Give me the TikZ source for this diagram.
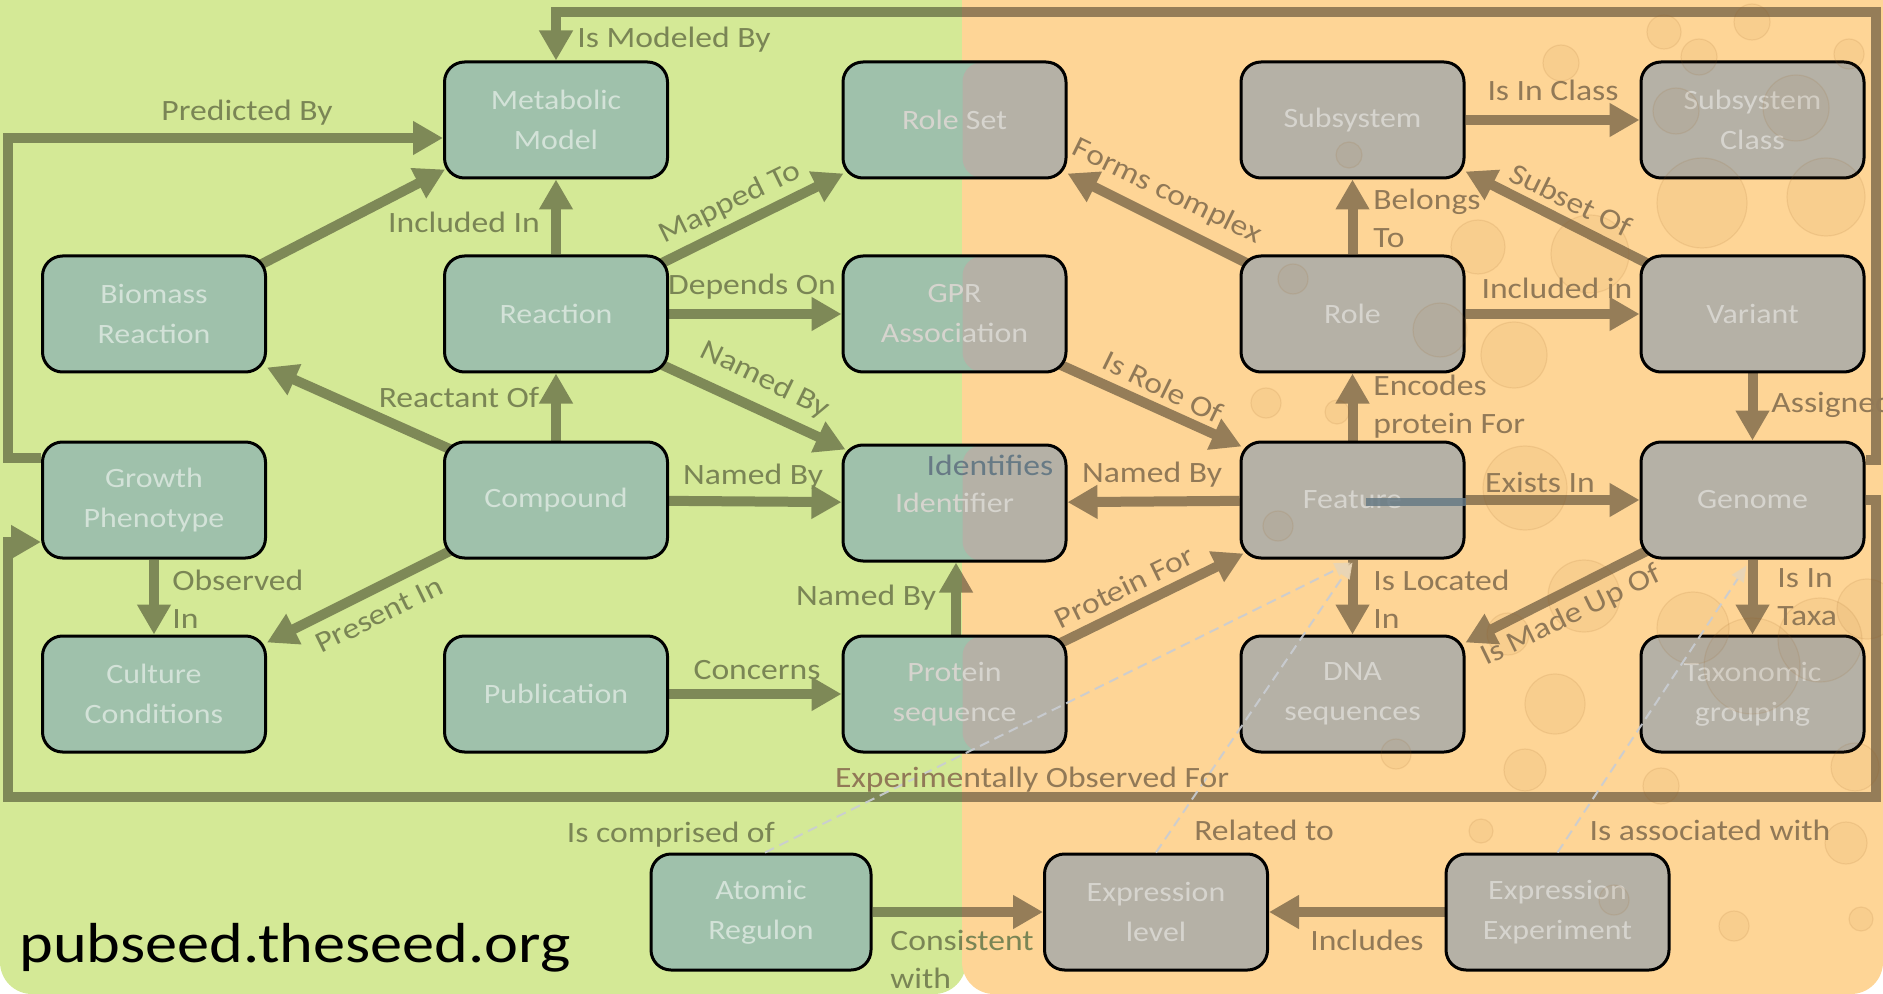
\documentclass[tikz,border=0pt]{standalone}
\usepackage{fontspec}
\setmainfont{Carlito}[FakeStretch=1.14]
\usetikzlibrary{arrows.meta,calc}

\definecolor{bggreen}{HTML}{D4E996}
\definecolor{bgorange}{HTML}{FED596}
\definecolor{tealfill}{HTML}{9FC1AB}
\definecolor{greyfill}{HTML}{B5B1A6}
\definecolor{tealtext}{HTML}{D3E2D8}
\definecolor{greytext}{HTML}{D6D4CE}
\definecolor{edgeolive}{HTML}{7E8957}
\definecolor{edgebrown}{HTML}{957D58}
\definecolor{labolive}{HTML}{7A8555}
\definecolor{labbrown}{HTML}{917957}
\definecolor{slatecol}{HTML}{677A85}
\definecolor{dashcol}{HTML}{C9CDD3}
\definecolor{tiptan}{HTML}{E9D5B5}
\definecolor{bubblecol}{HTML}{9A5F1E}

\newcommand\boxfont{\fontsize{14}{20}\selectfont}
\newcommand\labfont{\fontsize{14.75}{19}\selectfont}

\pgfdeclarelayer{bglayer}
\pgfdeclarelayer{edgelayer}
\pgfdeclarelayer{frontlayer}
\pgfsetlayers{bglayer,edgelayer,main,frontlayer}

\tikzset{
  ent/.style={draw=black, line width=1.5pt, rounded corners=10pt, minimum width=111.5pt, minimum height=58pt, inner sep=0pt, align=center, font=\boxfont},
  tealbox/.style={ent, fill=tealfill, text=tealtext},
  greybox/.style={ent, fill=greyfill, text=greytext},
  splitbox/.style={ent, fill=tealfill, text=greytext, path picture={\fill[greyfill] ([xshift=4pt]path picture bounding box.north) rectangle (path picture bounding box.south east);}},
  link/.style={line width=5pt, -{Triangle[length=15pt,width=16pt]}},
  lab/.style={font=\labfont, inner sep=0pt},
  lg/.style={lab, text=labolive},
  lo/.style={lab, text=labbrown},
  dashlink/.style={draw=dashcol, draw opacity=0.9, line width=1pt, dash pattern=on 5pt off 3pt, -{Triangle[length=8pt,width=7pt,color=tiptan]}},
  bubble/.style={fill=bubblecol, fill opacity=0.06, draw=bubblecol, draw opacity=0.11, line width=0.6pt},
}

\newcommand\alledges[1]{%
  \draw[link,color=#1] ($(gen.east)+(0,-40)$) -| (trc) -| (mm.north);
  \draw[link,color=#1] (gen.east) -| (brc) -| (blc) -- (blc -| gp.west);
  \draw[link,color=#1] ($(gp.west)+(0,-42)$) -| (plc) -- (plc -| mm.west);
  \draw[link,color=#1] ($(br.north east)+(-10,12)$) -- ($(mm.south west)+(2,-10)$);
  \draw[link,color=#1] (rx) -- (mm);
  \draw[link,color=#1] ($(rx.north east)+(-10,10)$) -- ($(rs.south west)+(2,-6)$);
  \draw[link,color=#1] (rx) -- (gpr);
  \draw[link,color=#1] ($(rx.south east)+(-10,-10)$) -- ($(idf.north west)+(4,6)$);
  \draw[link,color=#1] (cpd) -- (rx);
  \draw[link,color=#1] ($(cpd.north west)+(10,10)$) -- ($(br.south east)+(0,-6)$);
  \draw[link,color=#1] (cpd) -- (idf);
  \draw[link,color=#1] ($(cpd.south west)+(10,-10)$) -- ($(cc.north east)+(0,8)$);
  \draw[link,color=#1] (gp) -- (cc);
  \draw[link,color=#1] (pub) -- (ps);
  \draw[link,color=#1] ($(ps.north)+(1.5,0)$) -- ($(idf.south)+(1.5,0)$);
  \draw[link,color=#1] ($(ps.north east)+(-10,10)$) -- ($(feat.south west)+(4,-6)$);
  \draw[link,color=#1] ($(gpr.south east)+(-10,-10)$) -- ($(feat.north west)+(2,6)$);
  \draw[link,color=#1] (feat) -- (idf);
  \draw[link,color=#1] ($(role.north west)+(10,10)$) -- ($(rs.south east)+(0,-6)$);
  \draw[link,color=#1] (role) -- (ss);
  \draw[link,color=#1] (ss) -- (ssc);
  \draw[link,color=#1] ($(var.north west)+(10,10)$) -- ($(ss.south east)+(0,-8)$);
  \draw[link,color=#1] (role) -- (var);
  \draw[link,color=#1] (var) -- (gen);
  \draw[link,color=#1] (feat) -- (role);
  \draw[link,color=#1] (feat) -- (gen);
  \draw[link,color=#1] (feat) -- (dna);
  \draw[link,color=#1] ($(gen.south west)+(10,-10)$) -- ($(dna.north east)+(0,8)$);
  \draw[link,color=#1] (gen) -- (tax);
  \draw[link,color=#1] (ar) -- (el);
  \draw[link,color=#1] (ee) -- (el);
}

\begin{document}
\begin{tikzpicture}[x=0.5pt, y=-0.5pt]
\useasboundingbox (0,0) rectangle (1883,994);
\clip (0,0) rectangle (1883,994);

\begin{pgfonlayer}{bglayer}
  \fill[bggreen, rounded corners=16pt] (0,-40) rectangle (966,994);
  \fill[bgorange, rounded corners=16pt] (962,-40) rectangle (1883,994);
\end{pgfonlayer}

% entity boxes
\node[tealbox] (mm) at (556,120) {Metabolic\\Model};
\node[splitbox] (rs) at (954.5,120) {Role Set};
\node[greybox] (ss) at (1352.5,120) {Subsystem};
\node[greybox] (ssc) at (1752.5,120) {Subsystem\\Class};
\node[tealbox] (br) at (154,314) {Biomass\\Reaction};
\node[tealbox] (rx) at (556,314) {Reaction};
\node[splitbox] (gpr) at (954.5,314) {GPR\\Association};
\node[greybox] (role) at (1352.5,314) {Role};
\node[greybox] (var) at (1752.5,314) {Variant};
\node[tealbox] (gp) at (154,500) {Growth\\Phenotype};
\node[tealbox] (cpd) at (556,500) {Compound};
\node[splitbox] (idf) at (954.5,503) {Identifier};
\node[greybox] (feat) at (1352.5,500) {Feature};
\node[greybox] (gen) at (1752.5,500) {Genome};
\node[tealbox] (cc) at (154,694) {Culture\\Conditions};
\node[tealbox] (pub) at (556,694) {Publication};
\node[splitbox] (ps) at (954.5,694) {Protein\\sequence};
\node[greybox] (dna) at (1352.5,694) {DNA\\sequences};
\node[greybox] (tax) at (1752.5,694) {Taxonomic\\grouping};
\node[tealbox, minimum width=110pt] (ar) at (761,912) {Atomic\\Regulon};
\node[greybox] (el) at (1156,912) {Expression\\level};
\node[greybox] (ee) at (1557.5,912) {Expression\\Experiment};

\coordinate (trc) at (1876,12);
\coordinate (brc) at (1876,797);
\coordinate (blc) at (8,542);
\coordinate (plc) at (8,138);

\begin{pgfonlayer}{edgelayer}
  \begin{scope}
    \clip (-20,-20) rectangle (962,1020);
    \alledges{edgeolive}
  \end{scope}
  \begin{scope}
    \clip (962,-20) rectangle (1900,1020);
    \alledges{edgebrown}
  \end{scope}
\end{pgfonlayer}

\begin{pgfonlayer}{frontlayer}
  % faint bubbles of the orange half
  \foreach \bx/\by/\br in {1664/32/17, 1752/22/18, 1561/63/18, 1699/57/18, 1849/54/15,
      1676/111/23, 1796/108/33, 1826/197/39, 1702/203/45, 1478/247/27, 1590/254/39,
      1514/355/33, 1440/330/27, 1349/155/13, 1293/279/15, 1266/403/15, 1337/412/12,
      1525/488/42, 1867/609/30, 1584/596/36, 1693/628/36, 1752/666/48, 1820/640/42,
      1508/634/21, 1555/704/30, 1396/754/15, 1525/770/21, 1855/767/24, 1481/831/12,
      1734/926/15, 1846/843/21, 1861/919/12, 1278/526/15, 1661/786/18, 1614/900/15}
    \draw[bubble] (\bx,\by) circle[radius=\br];
  % stray marks seen in the picture
  \draw[slatecol, line width=4pt, opacity=0.85] ($(feat.center)+(13,2)$) -- ($(feat.east)+(0,2)$);
  \node[lab, text=slatecol] (idtxt) at (990,465) {Identifies};

  % dashed links
  \draw[dashlink] ($(ar.north)+(4,0)$) -- ($(feat.south)+(-2,3)$);
  \draw[dashlink] (el.north) -- ($(feat.south)+(0,3)$);
  \draw[dashlink] (ee.north) -- ($(gen.south)+(-6,6)$);

  % connector labels
  \node[lg] (l1) at (674,40) {Is Modeled By};
  \node[lg] (l2) at (247,113) {Predicted By};
  \node[lg] (l3) at (464,222) {Included In};
  \node[lg, rotate=26] (l4) at (730,203) {Mapped To};
  \node[lg] (l5) at (752,287) {Depends On};
  \node[lg, rotate=-26] (l6) at (765,380) {Named By};
  \node[lg] (l7) at (459,397) {Reactant Of};
  \node[lg] (l8) at (753,477) {Named By};
  \node[lg, rotate=26] (l9) at (379,615) {Present In};
  \node[lg, anchor=west, align=left] (l10) at (172,599) {Observed\\In};
  \node[lg] (l11) at (757,670) {Concerns};
  \node[lg] (l12) at (866,598) {Named By};
  \node[lo, rotate=26] (l13) at (1124,587) {Protein For};
  \node[lo, rotate=-26] (l14) at (1163,387) {Is Role Of};
  \node[lo] (l15) at (1152,475) {Named By};
  \node[lo, rotate=-26] (l16) at (1167,192) {Forms complex};
  \node[lo, anchor=west, align=left] (l17) at (1373,218) {Belongs\\To};
  \node[lo] (l18) at (1553,90) {Is In Class};
  \node[lo, rotate=-26] (l19) at (1571,200) {Subset Of};
  \node[lo] (l20) at (1557,288) {Included in};
  \node[lo, anchor=west] (l21) at (1771,405) {Assigned};
  \node[lo, anchor=west, align=left] (l22) at (1373,407) {Encodes\\protein For};
  \node[lo] (l23) at (1540,482) {Exists In};
  \node[lo, anchor=west, align=left] (l24) at (1373,599) {Is Located\\In};
  \node[lo, rotate=26] (l25) at (1571,616) {Is Made Up Of};
  \node[lo, anchor=west, align=left] (l26) at (1777,597) {Is In\\Taxa};
  \node[lo] (l27) at (1032,780) {Experimentally Observed For};
  \node[lg] (l28) at (671,835) {Is comprised of};
  \node[lo] (l29) at (1264,830) {Related to};
  \node[lo] (l30) at (1710,830) {Is associated with};
  \node[lg, anchor=west, align=left] (l31) at (890,959) {Consistent\\with};
  \node[lo] (l32) at (1367,940) {Includes};

  \node[anchor=base west, inner sep=0pt, font=\fontsize{28.2}{30}\selectfont] (site) at (19,962) {pubseed.theseed.org};
\end{pgfonlayer}
\end{tikzpicture}
\end{document}
